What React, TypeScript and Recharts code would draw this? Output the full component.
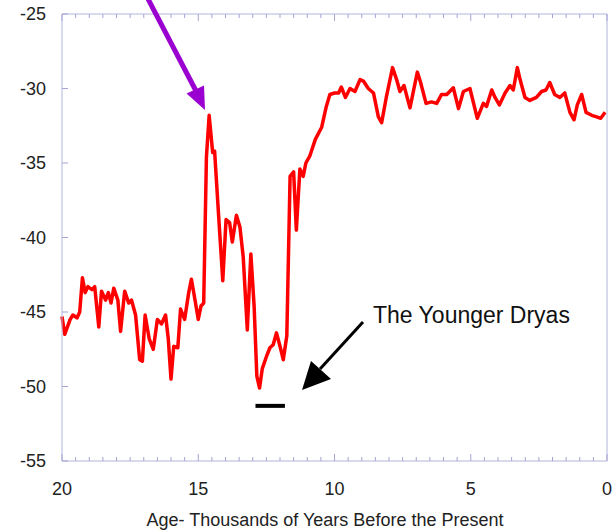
import { LineChart, Line, XAxis, YAxis, ReferenceLine } from 'recharts';

// Age (thousands of years before present) and the ice-core isotope record
const AGES = [
  20.0, 19.9, 19.7, 19.6, 19.45, 19.35, 19.25, 19.15, 19.05, 18.9, 18.8, 18.65,
  18.55, 18.4, 18.3, 18.2, 18.1, 17.95, 17.85, 17.7, 17.55, 17.45, 17.3, 17.15,
  17.05, 16.95, 16.8, 16.65, 16.5, 16.35, 16.2, 16.1, 16.0, 15.9, 15.75, 15.65,
  15.5, 15.35, 15.25, 15.1, 15.0, 14.9, 14.8, 14.7, 14.6, 14.47, 14.4, 14.25,
  14.1, 13.98, 13.85, 13.75, 13.6, 13.47, 13.35, 13.2, 13.07, 12.95, 12.85,
  12.75, 12.65, 12.5, 12.37, 12.25, 12.13, 12.0, 11.88, 11.75, 11.63, 11.5,
  11.4, 11.27, 11.15, 11.05, 10.9, 10.7, 10.47, 10.3, 10.17, 10.0, 9.85, 9.75,
  9.6, 9.43, 9.25, 9.06, 8.94, 8.76, 8.57, 8.39, 8.27, 8.1, 7.87, 7.72, 7.6,
  7.45, 7.23, 6.96, 6.84, 6.64, 6.44, 6.25, 6.07, 5.88, 5.64, 5.45, 5.27, 5.03,
  4.76, 4.54, 4.42, 4.23, 4.11, 3.95, 3.74, 3.56, 3.44, 3.29, 3.19, 3.01, 2.83,
  2.59, 2.4, 2.24, 2.1, 1.92, 1.73, 1.55, 1.36, 1.21, 1.09, 0.93, 0.77, 0.56,
  0.38, 0.23, 0.07,
];

const DELTA = [
  -45.3, -46.5, -45.5, -45.2, -45.4, -45.0, -42.7, -43.7, -43.3, -43.5, -43.3, -46.0,
  -43.6, -44.2, -43.7, -44.4, -43.4, -44.2, -46.3, -43.6, -44.4, -44.2, -45.2, -48.2,
  -48.3, -45.2, -46.8, -47.5, -45.5, -45.8, -45.2, -46.8, -49.5, -47.3, -47.4, -44.8,
  -45.5, -43.7, -42.8, -44.4, -45.5, -44.6, -44.4, -34.6, -31.8, -34.3, -34.2, -38.6,
  -42.9, -38.8, -39.0, -40.3, -38.5, -39.3, -41.3, -46.2, -41.1, -44.6, -49.3,
  -50.1, -48.8, -48.0, -47.4, -47.2, -46.4, -47.3, -48.2, -46.6, -35.9, -35.6,
  -39.5, -35.4, -35.9, -35.0, -34.5, -33.4, -32.6, -31.2, -30.4, -30.3, -30.3, -29.9,
  -30.6, -30.0, -30.2, -29.4, -29.5, -30.0, -30.3, -31.9, -32.3, -30.6, -28.6, -29.4, -30.2,
  -29.8, -31.3, -28.9, -29.6, -31.0, -30.9, -31.0, -30.4, -30.4, -29.95, -31.35, -30.2, -30.0,
  -32.0, -31.0, -31.2, -30.1, -30.6, -31.1, -30.3, -29.8, -30.1, -28.6, -29.4, -30.6, -30.8,
  -30.6, -30.2, -30.1, -29.6, -30.4, -30.6, -30.3, -31.6, -32.1, -31.1, -30.4, -31.6, -31.8,
  -31.9, -32.0, -31.6,
];

const X_MAJOR = [20, 15, 10, 5, 0];
const X_TICKS = Array.from({ length: 41 }, (_, i) => i * 0.5);
const Y_TICKS = [-55, -50, -45, -40, -35, -30, -25];

// Younger Dryas span marked under the minimum
const YD_SPAN = [12.9, 11.82];
const YD_LEVEL = -51.3;

const FRAME = '#b4b4dc';
const TICK = '#a4a4d4';
const FONT = '"Liberation Sans", Arial, sans-serif';

const data = AGES.map((age, i) => ({ age, d18o: DELTA[i] }));

const BottomTick = (props: any) => {
  const { x, y, payload } = props;
  const major = X_MAJOR.includes(payload.value);
  return (
    <g>
      <line x1={x} x2={x} y1={y} y2={y - (major ? 7 : 4)} stroke={TICK} />
      {major && (
        <text x={x} y={y + 34} textAnchor="middle" fontSize={18} fill="#222" fontFamily={FONT}>
          {payload.value}
        </text>
      )}
    </g>
  );
};

const TopTick = (props: any) => {
  const { x, y, payload } = props;
  const major = X_MAJOR.includes(payload.value);
  return <line x1={x} x2={x} y1={y} y2={y + (major ? 7 : 4)} stroke={TICK} />;
};

const LeftTick = (props: any) => {
  const { x, y, payload } = props;
  return (
    <g>
      <line x1={x} x2={x + 6} y1={y} y2={y} stroke={TICK} />
      <text x={x - 16} y={y} textAnchor="end" dominantBaseline="central" fontSize={18} fill="#222" fontFamily={FONT}>
        {payload.value}
      </text>
    </g>
  );
};

const RightTick = (props: any) => {
  const { x, y } = props;
  return <line x1={x} x2={x - 6} y1={y} y2={y} stroke={TICK} />;
};

export default function App() {
  return (
    <div style={{ position: 'absolute', left: 0, top: 0, width: 612, height: 530, background: '#fff' }}>
      <LineChart width={612} height={530} data={data} margin={{ top: 13, right: 4, bottom: 0, left: 0 }}>
        <XAxis
          xAxisId="b"
          dataKey="age"
          type="number"
          domain={[0, 20]}
          reversed
          ticks={X_TICKS}
          interval={0}
          tickSize={0}
          tickMargin={0}
          tickLine={false}
          axisLine={{ stroke: FRAME }}
          tick={BottomTick}
          height={69}
        />
        <XAxis
          xAxisId="t"
          orientation="top"
          dataKey="age"
          type="number"
          domain={[0, 20]}
          reversed
          ticks={X_TICKS}
          interval={0}
          tickSize={0}
          tickMargin={0}
          tickLine={false}
          axisLine={{ stroke: FRAME }}
          tick={TopTick}
          height={1}
        />
        <YAxis
          yAxisId="l"
          type="number"
          domain={[-55, -25]}
          ticks={Y_TICKS}
          interval={0}
          tickSize={0}
          tickMargin={0}
          tickLine={false}
          axisLine={{ stroke: FRAME }}
          tick={LeftTick}
          width={62}
        />
        <YAxis
          yAxisId="r"
          orientation="right"
          type="number"
          domain={[-55, -25]}
          ticks={Y_TICKS}
          interval={0}
          tickSize={0}
          tickMargin={0}
          tickLine={false}
          axisLine={{ stroke: FRAME }}
          tick={RightTick}
          width={1}
        />
        <Line
          xAxisId="b"
          yAxisId="l"
          dataKey="d18o"
          type="linear"
          stroke="#ff0000"
          strokeWidth={3.5}
          strokeLinejoin="round"
          dot={false}
          activeDot={false}
          isAnimationActive={false}
        />
        <ReferenceLine
          xAxisId="b"
          yAxisId="l"
          segment={[
            { x: YD_SPAN[0], y: YD_LEVEL },
            { x: YD_SPAN[1], y: YD_LEVEL },
          ]}
          stroke="#000"
          strokeWidth={4}
        />
      </LineChart>
      <svg width={612} height={530} style={{ position: 'absolute', left: 0, top: 0, pointerEvents: 'none' }}>
        {/* purple arrow pointing at the Bolling-Allerod peak */}
        <line x1={146} y1={-5} x2={195.5} y2={90} stroke="#9a00cf" strokeWidth={5} />
        <polygon points="205,110 186.5,93.5 204,85.5" fill="#9a00cf" />
        {/* black arrow pointing at the Younger Dryas */}
        <line x1={363} y1={322} x2={320} y2={369} stroke="#000" strokeWidth={3} />
        <polygon points="302,390 311,361 331,379" fill="#000" />
        <text x={373} y={323} fontSize={23} fill="#111" fontFamily={FONT}>
          The Younger Dryas
        </text>
        <text x={325} y={526} textAnchor="middle" fontSize={18} fill="#222" fontFamily={FONT}>
          Age- Thousands of Years Before the Present
        </text>
      </svg>
    </div>
  );
}
